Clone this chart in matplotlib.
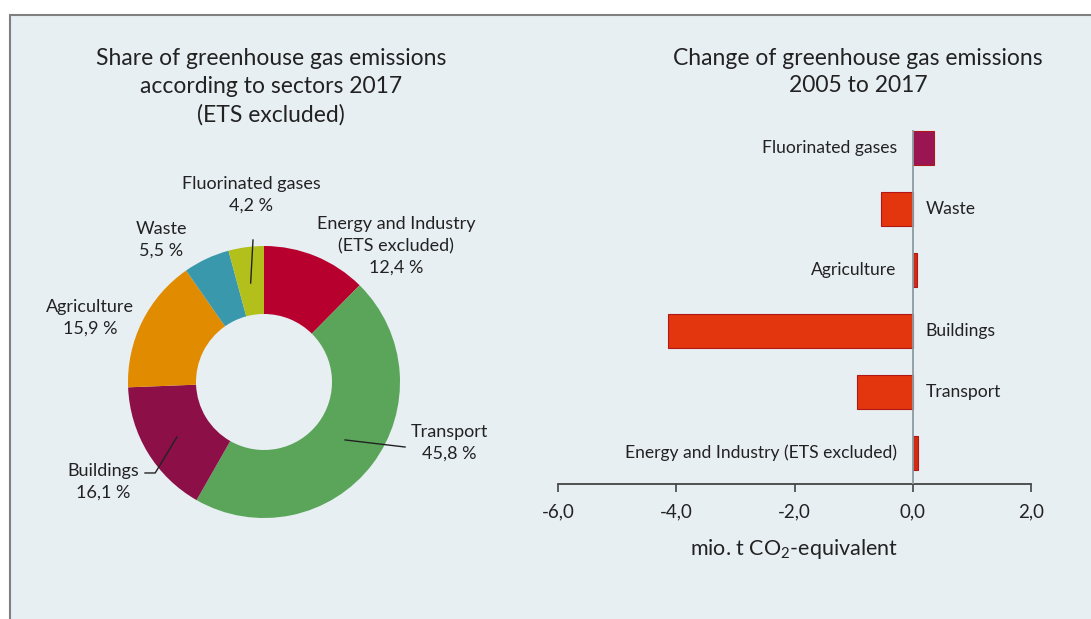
import matplotlib
matplotlib.use('Agg')
import matplotlib.pyplot as plt
from matplotlib.patches import Rectangle

plt.rcParams['font.family'] = ['Lato', 'DejaVu Sans']
plt.rcParams['mathtext.fontset'] = 'custom'
plt.rcParams['mathtext.rm'] = 'Lato'

# share of emissions 2017 (ETS excluded), clockwise from the top
pie_sectors = ['Energy and Industry\n(ETS excluded)', 'Transport', 'Buildings',
               'Agriculture', 'Waste', 'Fluorinated gases']
pie_shares = [12.4, 45.8, 16.1, 15.9, 5.5, 4.2]
pie_colors = ['#b8002e', '#5aa55a', '#8c0f47', '#e08b00', '#3a98ad', '#b3c01c']

# change 2005 to 2017, mio. t CO2-equivalent (bottom to top)
bar_sectors = ['Energy and Industry (ETS excluded)', 'Transport', 'Buildings',
               'Agriculture', 'Waste', 'Fluorinated gases']
bar_change = [0.09, -0.95, -4.14, 0.08, -0.54, 0.36]
bar_colors = ['#d42a12', '#e3360f', '#e3360f', '#d42a12', '#e3360f', '#9a1552']
x_ticks = [-6, -4, -2, 0, 2]

W, H = 1091, 619
bg = '#e8eff3'
ink = '#222222'
fig = plt.figure(figsize=(W / 100, H / 100), dpi=100)
fig.patch.set_facecolor('white')
fig.patches.append(Rectangle((10 / W, -0.01), 1.0, 1 - 15 / H + 0.01,
                             transform=fig.transFigure, facecolor=bg,
                             edgecolor='#7f7f7f', linewidth=1.5, zorder=-1))

def fmt_pct(v):
    return f'{v:.1f} %'.replace('.', ',')

# --- donut ---
ax = fig.add_axes([(264 - 150) / W, (H - 382 - 150) / H, 300 / W, 300 / H])
ax.pie(pie_shares, colors=pie_colors, startangle=90, counterclock=False,
       radius=1.0, wedgeprops=dict(width=0.5, edgecolor='none'))
ax.set_xlim(-150 / 136, 150 / 136)
ax.set_ylim(-150 / 136, 150 / 136)
ax.axis('off')

lab_kw = dict(ha='center', va='center', fontsize=13, color=ink,
              linespacing=1.43, clip_on=False)
names = {s: f'{s}\n{fmt_pct(v)}' for s, v in zip(pie_sectors, pie_shares)}
ax.text(0.97, 1.0, names[pie_sectors[0]], **lab_kw)
ax.text(1.36, -0.45, names['Transport'], **lab_kw)
ax.text(-1.18, -0.735, names['Buildings'], **lab_kw)
ax.text(-1.28, 0.47, names['Agriculture'], **lab_kw)
ax.text(-0.757, 1.044, names['Waste'], **lab_kw)
ax.text(-0.096, 1.375, names['Fluorinated gases'], **lab_kw)

line_kw = dict(color=ink, linewidth=1.0, clip_on=False)
ax.plot([-0.081, -0.098], [1.044, 0.728], **line_kw)
ax.plot([-0.875, -0.80, -0.64], [-0.669, -0.669, -0.404], **line_kw)
ax.plot([0.596, 1.037], [-0.426, -0.478], **line_kw)

fig.text(271 / W, 1 - 87 / H,
         'Share of greenhouse gas emissions\naccording to sectors 2017\n(ETS excluded)',
         ha='center', va='center', fontsize=16.5, color=ink, linespacing=1.41)

# --- horizontal bars ---
y0, y1 = 484, 130
bx = fig.add_axes([558 / W, (H - y0) / H, (1031 - 558) / W, (y0 - y1) / H])
bx.set_facecolor('none')
ypos = list(range(len(bar_change)))
bx.barh(ypos, bar_change, height=0.57, color=bar_colors,
        edgecolor='#b01818', linewidth=0.8, zorder=2)
bx.set_xlim(-6, 2)
bx.set_ylim(-0.508, 5.295)
bx.axvline(0, color='#8e9aa3', linewidth=1.3, zorder=3)
for y, v, name in zip(ypos, bar_change, bar_sectors):
    if v < 0:
        bx.text(0.22, y, name, ha='left', va='center', fontsize=12.6, color=ink)
    else:
        bx.text(-0.27, y, name, ha='right', va='center', fontsize=12.6, color=ink)

for s in ['top', 'right', 'left']:
    bx.spines[s].set_visible(False)
bx.spines['bottom'].set_color('#444444')
bx.spines['bottom'].set_linewidth(1.3)
bx.set_yticks([])
bx.set_xticks(x_ticks)
bx.set_xticklabels([f'{t:.1f}'.replace('.', ',') for t in x_ticks])
bx.tick_params(axis='x', direction='out', length=6, width=1.2, color='#444444',
               labelsize=13.5, labelcolor=ink, pad=8)
bx.set_xlabel('mio. t CO$_2$-equivalent', fontsize=15.5, color=ink, labelpad=12)

fig.text(858 / W, 1 - 72 / H, 'Change of greenhouse gas emissions\n2005 to 2017',
         ha='center', va='center', fontsize=16.5, color=ink, linespacing=1.41)

fig.savefig('out.png', dpi=100, facecolor=fig.get_facecolor())
